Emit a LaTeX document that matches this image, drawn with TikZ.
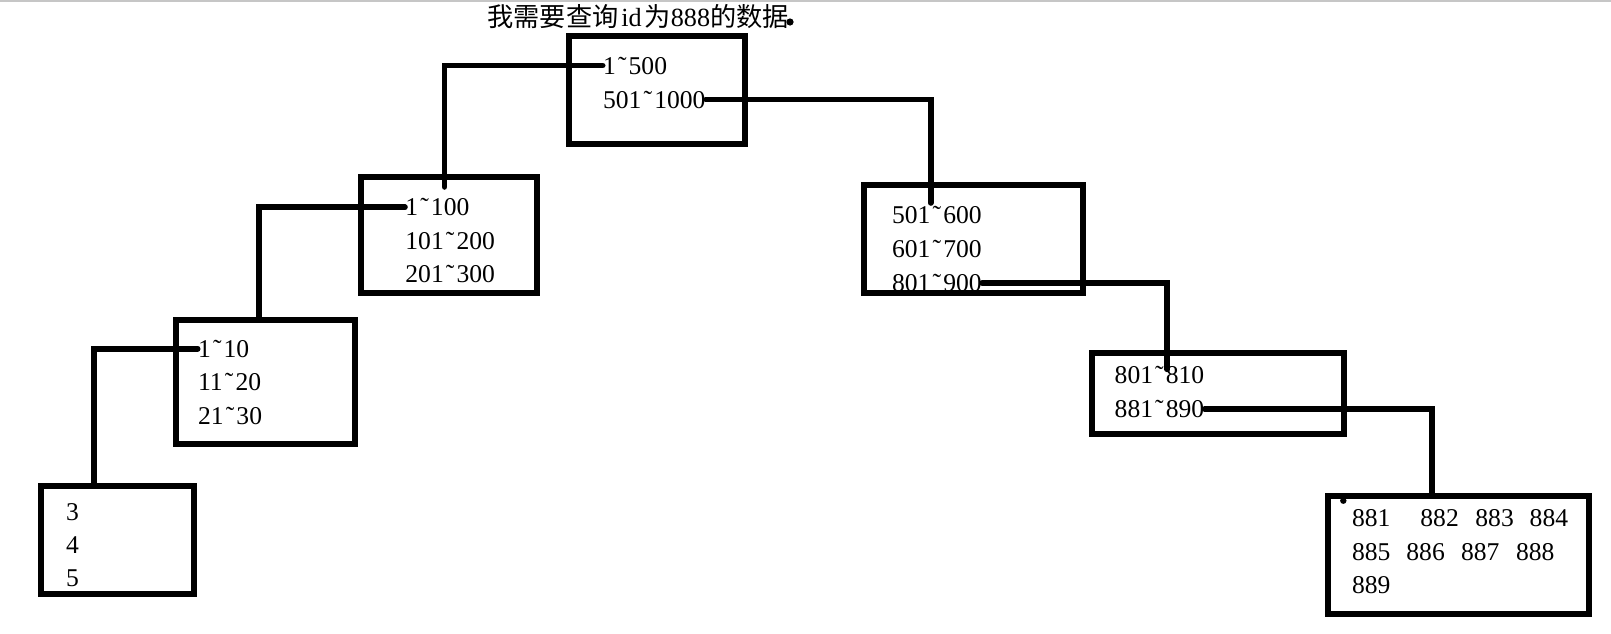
\documentclass[tikz,border=0pt]{standalone}
\usepackage{fontspec}
\setmainfont{Liberation Serif}
\newfontfamily\cjk{Noto Sans CJK SC}
\newcommand\tld{\makebox[.5em]{˜}}

\begin{document}
\begin{tikzpicture}[x=.5pt, y=-.5pt,
  box/.style={draw, line width=3pt, inner sep=0pt},
  num/.style={anchor=base west, inner sep=0pt, font=\fontsize{12.8}{15}\selectfont},
  link/.style={line width=2.8pt, line cap=round}]
\useasboundingbox (0,0) rectangle (1611,633);
\draw[gray!45, line width=1pt](0,1)--(1611,1);
\node[num, font=\fontsize{13.1}{15}\selectfont] (title) at (487,26)
    {{\cjk 我需要查询}\makebox[1em]{id}{\cjk 为}888{\cjk 的数据}};
\fill (790,22) circle (1.8pt);

% texts
\node[num] (a1) at (602.7,74) {1\tld500};
\node[num] (a2) at (602.7,108) {501\tld1000};
\foreach \t [count=\i] in {1\tld100, 101\tld200, 201\tld300}
{
    \node[num] (b\i) at (405,{182.2+33.5*\i}) {\t};
}
\foreach \t [count=\i] in {1\tld10, 11\tld20, 21\tld30}
{
    \node[num] (c\i) at (197.7,{323.8+33.4*\i}) {\t};
}
\foreach \t [count=\i] in {3,4,5}
{
    \node[num] (d\i) at (65.7,{486.6+33.4*\i}) {\t};
}
\foreach \t [count=\i] in {501\tld600, 601\tld700, 801\tld900}
{
    \node[num] (e\i) at (891.7,{190.1+33.85*\i}) {\t};
}
\node[num] (f1) at (1114.3,383.3) {801\tld810};
\node[num] (f2) at (1114.3,417.3) {881\tld890};
\foreach \n/\x/\y in {881/1351.7/526, 882/1420/526, 883/1475/526, 884/1529.3/526,
    885/1351.7/560, 886/1406/560, 887/1460.7/560, 888/1515.7/560, 889/1351.7/593.3}
{
    \node[num] (g\n) at (\x,\y) {\n};
}

% boxes
\node[box, minimum width=88pt, minimum height=54pt] (A) at (657,89.5) {};
\node[box, minimum width=88pt, minimum height=58pt] (B) at (449,235) {};
\node[box, minimum width=89.5pt, minimum height=62pt] (C) at (265.5,382) {};
\node[box, minimum width=76.75pt, minimum height=54pt] (D) at (117.25,540) {};
\node[box, minimum width=109.75pt, minimum height=54pt] (E) at (973.25,239) {};
\node[box, minimum width=126pt, minimum height=40.75pt] (F) at (1217.5,393.25) {};
\node[box, minimum width=130.5pt, minimum height=59pt] (G) at (1458.5,554.5) {};
\fill (1343.3,500.7) circle (1.6pt);

% links
\coordinate (bIn) at (444.5,187);
\coordinate (cIn) at (259,320);
\coordinate (dIn) at (94,486);
\coordinate (eIn) at (930.7,203);
\coordinate (fIn) at (1167,369.3);
\coordinate (gIn) at (1431.7,496);
\draw[link](a1.west)-|(bIn);
\draw[link](b1.west)-|(cIn);
\draw[link](c1.west)-|(dIn);
\draw[link](a2.east)-|(eIn);
\draw[link](e3.east)-|(fIn);
\draw[link](f2.east)-|(gIn);

\end{tikzpicture}
\end{document}
